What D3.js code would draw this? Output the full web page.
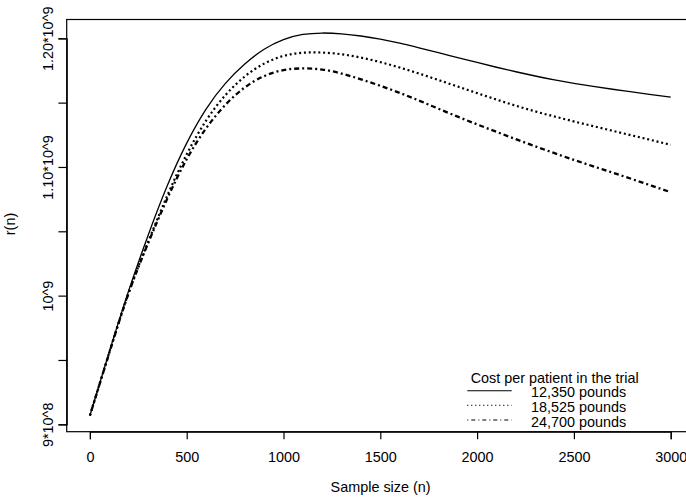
<!DOCTYPE html>
<html>
<head>
<meta charset="utf-8">
<script src="https://cdn.jsdelivr.net/npm/d3@7"></script>
<style>
  html, body { margin: 0; padding: 0; background: #fff; }
  svg { display: block; }
  text { font-family: "Liberation Sans", Arial, Helvetica, sans-serif; fill: #000; }
</style>
</head>
<body>
<svg id="chart" width="686" height="500"></svg>
<script>
// ---- Data (values of r(n) in millions) ----
const sampleSizes = [0,100,200,300,400,500,600,700,800,900,1000,1100,1200,1300,1400,1500,
  1600,1700,1800,1900,2000,2100,2200,2300,2400,2500,2600,2700,2800,2900,3000];
const cost12350 = [906.8,956.2,1003.7,1046.6,1085.5,1118.5,1145.0,1165.0,1180.0,1191.5,1199.0,
  1203.0,1204.1,1203.5,1201.8,1199.3,1196.2,1192.6,1188.8,1185.0,1181.2,1177.5,1174.0,1170.7,
  1167.7,1165.0,1162.6,1160.4,1158.3,1156.2,1154.2];
const cost18525 = [906.8,955.8,1002.3,1041.5,1077.8,1109.8,1136.0,1155.8,1170.3,1180.3,1186.3,
  1188.8,1188.9,1187.6,1185.0,1181.5,1177.3,1172.6,1167.6,1162.5,1157.4,1152.4,1147.6,1143.2,
  1139.2,1135.4,1131.7,1128.1,1124.5,1120.9,1117.2];
const cost24700 = [906.8,955.4,1001.8,1040.5,1075.5,1106.0,1130.0,1148.3,1161.8,1170.6,1175.3,
  1176.6,1175.7,1172.6,1168.1,1163.1,1157.6,1151.6,1145.3,1139.1,1133.1,1127.3,1121.6,1116.1,
  1110.7,1105.5,1100.5,1095.6,1090.6,1085.5,1080.4];
const seriesNames = ["12,350 pounds", "18,525 pounds", "24,700 pounds"];
const legendTitle = "Cost per patient in the trial";
const xTicks = [0,500,1000,1500,2000,2500,3000];
const yTicks = [900,950,1000,1050,1100,1150,1200];
const yTickLabels = {900: "9*10^8", 1000: "10^9", 1100: "1.10*10^9", 1200: "1.20*10^9"};
const xTitle = "Sample size (n)";
const yTitle = "r(n)";

// ---- Layout ----
const box = {left: 66.7, right: 694.5, top: 19.5, bottom: 431.7};
const svg = d3.select("#chart");
const x = d3.scaleLinear().domain([0, 3000]).range([89.9, 670.7]);
const y = d3.scaleLinear().domain([900, 1200]).range([424.3, 38.3]);
const FS = 14.4;

// plot box
svg.append("rect")
  .attr("x", box.left).attr("y", box.top)
  .attr("width", box.right - box.left).attr("height", box.bottom - box.top)
  .attr("fill", "none").attr("stroke", "#000").attr("stroke-width", 1.2);

// x axis
const xAxis = d3.axisBottom(x).tickValues(xTicks).tickSize(7.5).tickFormat(d3.format("d"));
const gx = svg.append("g").attr("transform", `translate(0,${box.bottom})`).call(xAxis);
gx.select(".domain").attr("stroke-width", 1.2);
gx.selectAll(".tick line").attr("stroke-width", 1.2);
gx.selectAll(".tick text").attr("font-size", FS).attr("font-family", "Liberation Sans, Arial, sans-serif")
  .attr("dy", "0").attr("y", 30);

// y axis
const yAxis = d3.axisLeft(y).tickValues(yTicks).tickSize(8.3).tickFormat(d => yTickLabels[d] || "");
const gy = svg.append("g").attr("transform", `translate(${box.left},0)`).call(yAxis);
gy.select(".domain").attr("stroke-width", 1.2);
gy.selectAll(".tick line").attr("stroke-width", 1.2);
gy.selectAll(".tick text")
  .attr("font-size", FS).attr("font-family", "Liberation Sans, Arial, sans-serif")
  .attr("x", null).attr("dy", null)
  .attr("text-anchor", "middle")
  .attr("transform", "translate(-13.5,0) rotate(-90)");

// axis titles
svg.append("text").attr("x", (box.left + box.right) / 2).attr("y", 492)
  .attr("text-anchor", "middle").attr("font-size", FS).text(xTitle);
svg.append("text").attr("transform", `translate(15,224) rotate(-90)`)
  .attr("text-anchor", "middle").attr("font-size", FS).text(yTitle);

// curves
const series = [
  {vals: cost12350, dash: null, w: 1.3},
  {vals: cost18525, dash: "2,2.8", w: 2.2},
  {vals: cost24700, dash: "2,3,5,3", w: 2.3}
];
const line = d3.line().x(d => x(d[0])).y(d => y(d[1])).curve(d3.curveNatural);
series.forEach(s => {
  svg.append("path")
    .datum(sampleSizes.map((n, i) => [n, s.vals[i]]))
    .attr("d", line)
    .attr("fill", "none").attr("stroke", "#000")
    .attr("stroke-width", s.w)
    .attr("stroke-dasharray", s.dash);
});

// legend
const lg = svg.append("g");
lg.append("text").attr("x", 470.7).attr("y", 382.7).attr("font-size", FS).text(legendTitle);
const legDash = [null, "1,3", "1,3,4,3"];
seriesNames.forEach((name, i) => {
  const ly = 390.7 + i * 14.65;
  lg.append("line").attr("x1", 467.3).attr("x2", 511.7).attr("y1", ly).attr("y2", ly)
    .attr("stroke", "#000").attr("stroke-width", 1.1).attr("stroke-dasharray", legDash[i]);
  lg.append("text").attr("x", 531).attr("y", ly + 6.6).attr("font-size", FS).text(name);
});
</script>
</body>
</html>
